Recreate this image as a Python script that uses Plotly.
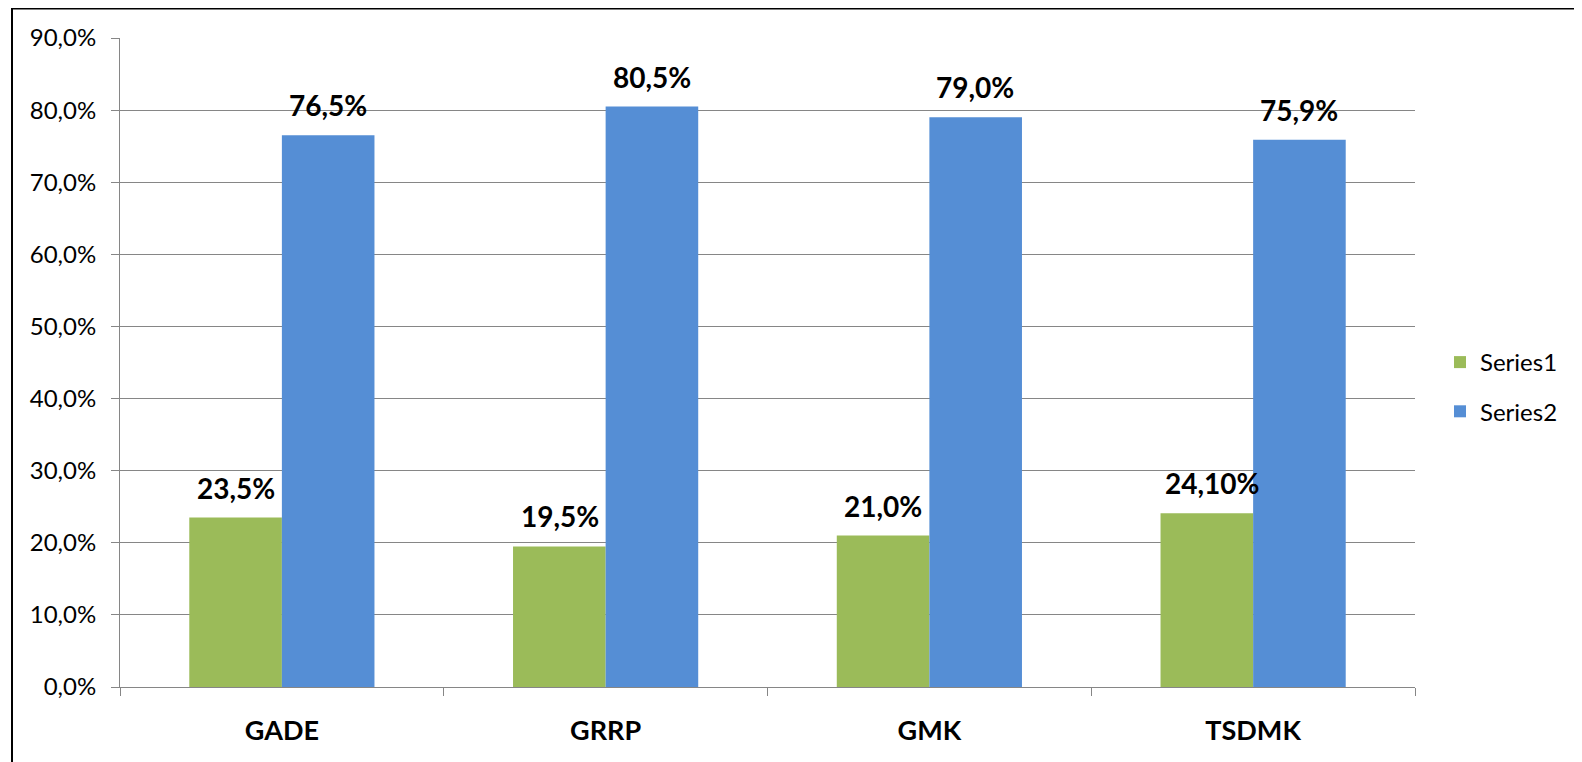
import plotly.graph_objects as go

categories = ["GADE", "GRRP", "GMK", "TSDMK"]
series1 = [0.235, 0.195, 0.210, 0.241]
series2 = [0.765, 0.805, 0.790, 0.759]
labels1 = ["23,5%", "19,5%", "21,0%", "24,10%"]
labels2 = ["76,5%", "80,5%", "79,0%", "75,9%"]
series_names = ["Series1", "Series2"]

OFF = 8  # default body margin of the html page
W, H = 1582 - OFF, 762 - OFF
# plot area in page pixels: x 120..1415, y 38..687
L, T = 120 - OFF, 38 - OFF
R, B = (OFF + W) - 1415, (OFF + H) - 687
pw, ph = W - L - R, H - T - B

def px_x(p):
    return (p - OFF - L) / pw

def px_y(p):
    return (OFF + H - B - p) / ph

GREEN = "#9BBB59"
BLUE = "#558ED5"
GRID = "#868686"
FONT = "Lato, Carlito, Calibri, sans-serif"

fig = go.Figure()
fig.add_trace(go.Bar(x=categories, y=series1, name=series_names[0], legendgroup="s1",
                     marker=dict(color=GREEN, line=dict(width=0))))
fig.add_trace(go.Bar(x=categories, y=series2, name=series_names[1], legendgroup="s2",
                     marker=dict(color=BLUE, line=dict(width=0))))

annotations = []
for cat, v, t in zip(categories, series1, labels1):
    annotations.append(dict(x=cat, y=v, text=f"<b>{t}</b>", showarrow=False, xshift=-46 + 5 * (t == "24,10%"),
                            yshift=11, yanchor="bottom", xanchor="center",
                            font=dict(family=FONT, size=28, color="black")))
for cat, v, t in zip(categories, series2, labels2):
    annotations.append(dict(x=cat, y=v, text=f"<b>{t}</b>", showarrow=False, xshift=46,
                            yshift=11, yanchor="bottom", xanchor="center",
                            font=dict(family=FONT, size=28, color="black")))

fig.update_layout(
    width=W, height=H,
    margin=dict(l=L, r=R, t=T, b=B, autoexpand=False),
    paper_bgcolor="white", plot_bgcolor="white",
    barmode="group", bargap=0.428, bargroupgap=0,
    separators=",.",
    font=dict(family=FONT, color="black"),
    annotations=annotations,
    legend=dict(x=px_x(1440), y=px_y(387), xanchor="left", yanchor="middle",
                font=dict(family=FONT, size=24, color="black"),
                tracegroupgap=15, itemwidth=30, bgcolor="rgba(0,0,0,0)"),
    shapes=[dict(type="rect", xref="paper", yref="paper",
                 x0=px_x(12), x1=px_x(1640), y0=px_y(820), y1=px_y(8.5),
                 line=dict(color="black", width=2), layer="above")],
)
fig.update_yaxes(range=[0, 0.9], dtick=0.1, tick0=0, tickformat=".1%",
                 showgrid=True, gridcolor=GRID, gridwidth=1,
                 showline=True, linecolor=GRID, linewidth=1,
                 ticks="outside", ticklen=8, tickcolor=GRID,
                 ticklabelstandoff=10,
                 tickfont=dict(family=FONT, size=24, color="black"),
                 zeroline=False)
fig.update_xaxes(showline=True, linecolor=GRID, linewidth=1,
                 ticks="outside", ticklen=8, tickcolor=GRID, tickson="boundaries",
                 ticklabelstandoff=20,
                 tickfont=dict(family=FONT, size=27, color="black"),
                 tickprefix="<b>", ticksuffix="</b>", showgrid=False)

fig.write_html("out.html")
